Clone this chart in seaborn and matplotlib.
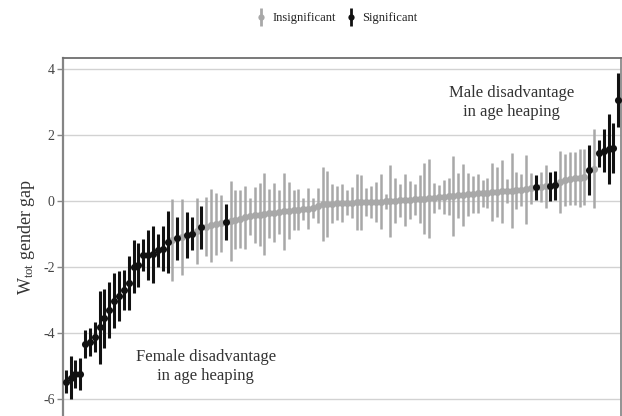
import numpy as np
import pandas as pd
import matplotlib
matplotlib.use("Agg")
import matplotlib.pyplot as plt
from matplotlib.lines import Line2D
import seaborn as sns

# Gender gap in age heaping (W_tot), one estimate per region, sorted by size
estimate = [
    -5.47, -5.35, -5.25, -5.24, -4.33, -4.27, -4.13, -3.83, -3.56, -3.30,
    -3.02, -2.88, -2.70, -2.49, -1.99, -1.94, -1.64, -1.64, -1.62, -1.50,
    -1.44, -1.24, -1.18, -1.13, -1.08, -1.02, -1.00, -0.92, -0.80, -0.78,
    -0.74, -0.71, -0.68, -0.63, -0.60, -0.57, -0.54, -0.50, -0.46, -0.43,
    -0.41, -0.39, -0.37, -0.35, -0.33, -0.31, -0.29, -0.27, -0.26, -0.25,
    -0.24, -0.22, -0.15, -0.10, -0.09, -0.08, -0.07, -0.06, -0.05, -0.05,
    -0.04, -0.04, -0.03, -0.03, -0.02, -0.02, -0.01, 0.00, 0.01, 0.02,
    0.03, 0.04, 0.05, 0.06, 0.07, 0.08, 0.10, 0.11, 0.12, 0.14,
    0.15, 0.17, 0.18, 0.20, 0.21, 0.23, 0.24, 0.25, 0.27, 0.28,
    0.29, 0.30, 0.31, 0.32, 0.33, 0.35, 0.38, 0.41, 0.42, 0.44,
    0.45, 0.48, 0.58, 0.64, 0.67, 0.69, 0.71, 0.73, 0.94, 0.98,
    1.44, 1.52, 1.57, 1.60, 3.06,
]

# Half-width of each confidence interval
half_width = [
    0.36, 0.65, 0.42, 0.49, 0.43, 0.43, 0.46, 1.11, 0.88, 0.84,
    0.84, 0.76, 0.61, 0.81, 0.81, 0.66, 0.48, 0.75, 0.86, 0.50,
    0.69, 0.94, 1.25, 0.66, 1.15, 0.70, 0.50, 1.00, 0.65, 0.90,
    1.11, 0.94, 0.86, 0.54, 1.21, 0.89, 0.87, 0.94, 0.56, 0.84,
    0.96, 1.24, 0.74, 0.89, 0.67, 1.17, 0.86, 0.60, 0.62, 0.34,
    0.62, 0.31, 0.53, 1.12, 0.99, 0.58, 0.52, 0.58, 0.38, 0.48,
    0.85, 0.84, 0.43, 0.48, 0.61, 0.84, 0.22, 1.10, 0.68, 0.50,
    0.79, 0.58, 0.46, 0.72, 1.07, 1.20, 0.46, 0.36, 0.52, 0.55,
    1.22, 0.69, 0.94, 0.64, 0.56, 0.58, 0.41, 0.46, 0.87, 0.76,
    0.96, 0.37, 1.14, 0.56, 0.48, 1.05, 0.48, 0.37, 0.46, 0.66,
    0.44, 0.44, 0.94, 0.78, 0.80, 0.80, 0.88, 0.85, 0.76, 1.20,
    0.41, 0.65, 1.07, 0.76, 0.81,
]

y_ticks = [-6, -4, -2, 0, 2, 4]
legend_labels = ["Insignificant", "Significant"]

df = pd.DataFrame({
    "rank": np.arange(len(estimate)),
    "gap": estimate,
    "ci": half_width,
})
df["lo"] = df["gap"] - df["ci"]
df["hi"] = df["gap"] + df["ci"]
df["significant"] = (df["lo"] > 0) | (df["hi"] < 0)

GREY = "#a8a8a8"
BLACK = "#111111"

sns.set_theme(style="white")
plt.rcParams["font.family"] = ["Liberation Serif", "DejaVu Serif"]
plt.rcParams["mathtext.fontset"] = "custom"
plt.rcParams["mathtext.rm"] = "Liberation Serif"
plt.rcParams["mathtext.it"] = "Liberation Serif:italic"
plt.rcParams["axes.unicode_minus"] = False

fig = plt.figure(figsize=(6.22, 4.16), dpi=100)
ax = fig.add_axes([63 / 622, 0, 558 / 622, 358 / 416])

insig = df[~df["significant"]]
sig = df[df["significant"]]

# intervals and point estimates, insignificant first so significant sit on top
ax.vlines(insig["rank"], insig["lo"], insig["hi"], color=GREY, lw=1.8, zorder=2)
sns.scatterplot(data=insig, x="rank", y="gap", color=GREY, s=26,
                linewidth=0, ax=ax, zorder=3, legend=False)
ax.vlines(sig["rank"], sig["lo"], sig["hi"], color=BLACK, lw=2.2, zorder=4)
sns.scatterplot(data=sig, x="rank", y="gap", color=BLACK, s=26,
                linewidth=0, ax=ax, zorder=5, legend=False)

ax.set_xlim(-0.56, len(estimate) - 1 + 0.56)
ax.set_ylim(-6.515, 4.333)
ax.set_xticks([])
ax.set_yticks(y_ticks)
ax.set_yticklabels([str(t) for t in y_ticks])
ax.set_xlabel("")
ax.set_ylabel(r"W$_{\mathrm{tot}}$ gender gap", fontsize=13, color="#333333", labelpad=4)

ax.yaxis.grid(True, color="#d2d2d2", lw=1.0)
ax.xaxis.grid(False)
ax.set_axisbelow(True)
ax.tick_params(axis="y", left=True, length=4, width=1, color="#888888",
               pad=2, labelsize=10, labelcolor="#444444")

for side, col, lw in [("left", "#858585", 1.6), ("top", "#6e6e6e", 1.3),
                      ("right", "#8a8a8a", 1.3)]:
    ax.spines[side].set_visible(True)
    ax.spines[side].set_color(col)
    ax.spines[side].set_linewidth(lw)
ax.spines["bottom"].set_visible(False)

ax.text(92.0, 2.98, "Male disadvantage\nin age heaping", ha="center", va="center",
        fontsize=12, color="#333333", linespacing=1.3)
ax.text(28.9, -5.02, "Female disadvantage\nin age heaping", ha="center", va="center",
        fontsize=12, color="#333333", linespacing=1.3)

handles = []
for col in (GREY, BLACK):
    bar = Line2D([], [], marker="|", markersize=13, markeredgewidth=2.0,
                 color=col, linestyle="none")
    dot = Line2D([], [], marker="o", markersize=4.5, markeredgewidth=0,
                 color=col, linestyle="none")
    handles.append((bar, dot))

fig.legend(handles, legend_labels, loc="center", bbox_to_anchor=(337 / 622, 1 - 18 / 416),
           ncol=2, frameon=False, fontsize=9, handlelength=0.8, handletextpad=0.5,
           columnspacing=0.8, labelcolor="#222222")

fig.savefig("out.png", dpi=100)
